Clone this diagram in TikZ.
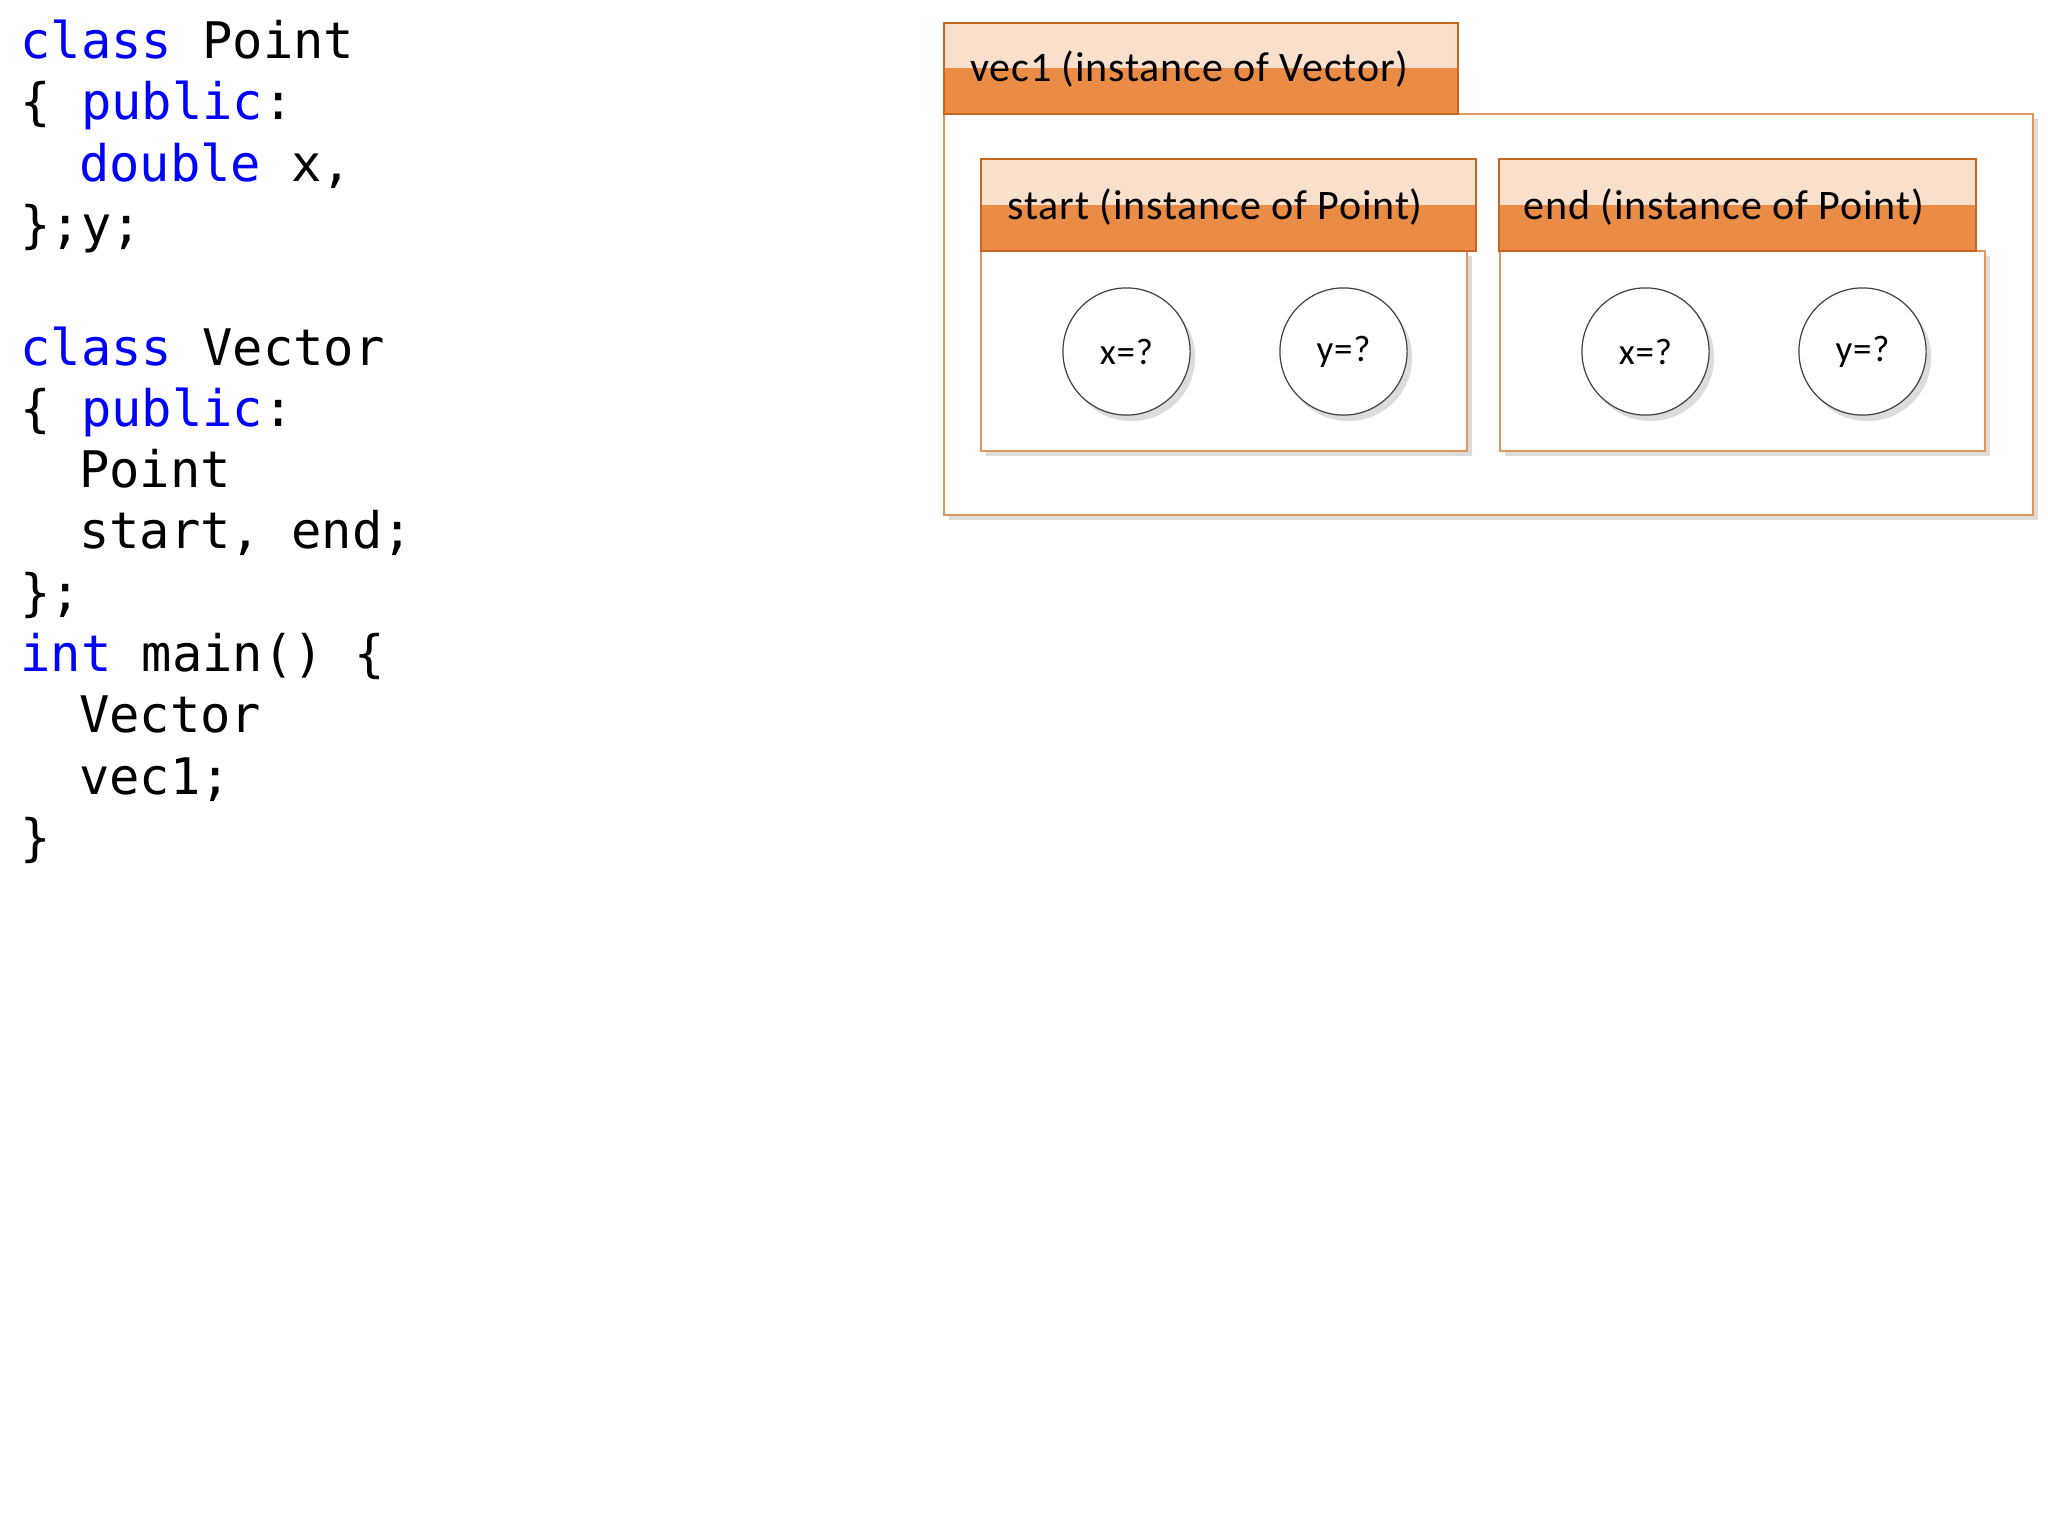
\documentclass[tikz,border=0pt]{standalone}
\usepackage{fontspec}
\setmainfont{Carlito}[LetterSpace=2.0]
\setmonofont{DejaVu Sans Mono}
\usetikzlibrary{shadows}
\definecolor{kwblue}{HTML}{0000FF}
\definecolor{hlight}{HTML}{F8E0CC}
\definecolor{hdark}{HTML}{EA8C46}
\definecolor{hborder}{HTML}{C86620}
\definecolor{bborder}{HTML}{E0975E}
\definecolor{shgray}{HTML}{DCDCDC}
\definecolor{circgray}{HTML}{404040}
\newcommand\kwc{\color{kwblue}}
\begin{document}
\begin{tikzpicture}[x=0.5pt,y=-0.5pt,
  codeline/.style={anchor=base west,inner sep=0pt,font=\ttfamily\fontsize{25.2}{30}\selectfont},
  hlabel/.style={anchor=base west,inner sep=0pt,font=\fontsize{21}{25}\selectfont},
  bodybox/.style={rectangle,draw=bborder,line width=0.7pt,fill=white,inner sep=0pt,
    drop shadow={shadow xshift=2.5pt,shadow yshift=-2.5pt,fill=shgray,opacity=1}},
  headbox/.style={rectangle,draw=hborder,line width=1pt,fill=hlight,inner sep=0pt,
    path picture={\fill[hdark] (path picture bounding box.west) rectangle (path picture bounding box.south east);}},
  valnode/.style={circle,draw=circgray,line width=0.6pt,fill=white,inner sep=0pt,minimum size=63.6pt,
    font=\fontsize{18.5}{22}\selectfont,
    drop shadow={shadow xshift=2.5pt,shadow yshift=-3pt,fill=shgray,opacity=1}}]
\useasboundingbox (0,0) rectangle (2048,1536);

% code
\node[codeline] (c1)  at (20,58.5)  {{\kwc class} Point};
\node[codeline] (c2)  at (20,119.8) {\{ {\kwc public}:};
\node[codeline] (c3)  at (18,181.1) {\phantom{xx}{\kwc double} x,};
\node[codeline] (c4)  at (20,242.4) {\};y;};
\node[codeline] (c6)  at (20,365.0) {{\kwc class} Vector};
\node[codeline] (c7)  at (20,426.3) {\{ {\kwc public}:};
\node[codeline] (c8)  at (18,487.6) {\phantom{xx}Point};
\node[codeline] (c9)  at (18,548.9) {\phantom{xx}start, end;};
\node[codeline] (c10) at (20,610.2) {\};};
\node[codeline] (c11) at (20,671.5) {{\kwc int} main() \{};
\node[codeline] (c12) at (18,732.8) {\phantom{xx}Vector};
\node[codeline] (c13) at (18,794.1) {\phantom{xx}vec1;};
\node[codeline] (c14) at (20,855.4) {\}};

% vec1
\node[bodybox,minimum width=544.5pt,minimum height=200.5pt] (vecbody) at (1488.5,314.5) {};
\node[headbox,minimum width=257pt,minimum height=45.5pt] (vechead) at (1201,68.5) {};
\node[hlabel] (veclabel) at (970,82) {vec1 (instance of Vector)};

% start
\node[bodybox,minimum width=243pt,minimum height=100pt] (startbody) at (1224,351) {};
\node[headbox,minimum width=247.5pt,minimum height=46pt] (starthead) at (1228.5,205) {};
\node[hlabel] (startlabel) at (1007,219.5) {start (instance of Point)};
\node[valnode] (sx) at (1126.5,351.5) {x=?};
\node[valnode] (sy) at (1343.5,351.5) {y=?};

% end
\node[bodybox,minimum width=242.5pt,minimum height=100pt] (endbody) at (1742.5,351) {};
\node[headbox,minimum width=238.5pt,minimum height=46pt] (endhead) at (1737.5,205) {};
\node[hlabel] (endlabel) at (1523.3,219) {end (instance of Point)};
\node[valnode] (ex) at (1645.5,351.5) {x=?};
\node[valnode] (ey) at (1862.5,351.5) {y=?};
\end{tikzpicture}
\end{document}
